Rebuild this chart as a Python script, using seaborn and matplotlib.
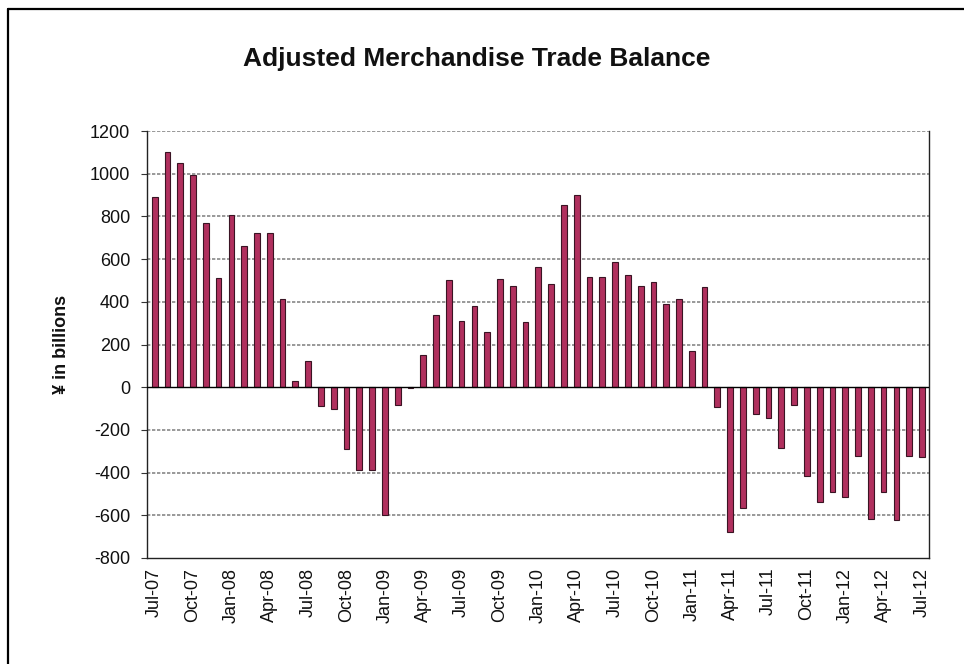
import matplotlib
matplotlib.use("Agg")
import matplotlib.pyplot as plt
from matplotlib.lines import Line2D
import seaborn as sns
import pandas as pd

# Monthly adjusted merchandise trade balance, Jul-2007 .. Jul-2012 (¥ billions)
months = pd.date_range("2007-07-01", "2012-07-01", freq="MS").strftime("%b-%y").tolist()
balance = [
    890, 1100, 1050, 995, 770, 510, 805, 660, 720, 720, 415, 30,
    125, -88, -102, -290, -386, -386, -600, -82, -5, 150, 340, 500,
    310, 380, 260, 505, 472, 305, 565, 485, 855, 900, 515, 515,
    585, 525, 472, 495, 392, 415, 170, 470, -95, -680, -565, -125,
    -145, -285, -82, -415, -540, -490, -515, -322, -615, -490, -620, -322,
    -326,
]
y_ticks = list(range(-800, 1201, 200))

df = pd.DataFrame({"month": months, "balance": balance})

sns.set_theme(style="white")
plt.rcParams["font.family"] = ["Liberation Sans", "DejaVu Sans"]

fig = plt.figure(figsize=(9.64, 6.64), dpi=100)
fig.patch.set_facecolor("white")
ax = fig.add_axes([147 / 964, 1 - 558 / 664, (929 - 147) / 964, (558 - 131) / 664])

sns.barplot(data=df, x="month", y="balance", ax=ax, color="#B0305E",
            saturation=1, width=0.45, edgecolor="#3A1424", linewidth=0.8)

ax.set_ylim(-800, 1200)
ax.set_xlim(-0.6, len(months) - 0.45)
ax.set_yticks(y_ticks)
ax.set_yticklabels([str(v) for v in y_ticks], fontsize=13, color="#111111")

# quarterly labels on the category axis
pos = list(range(0, len(months), 3))
ax.set_xticks(pos)
ax.set_xticklabels([months[i] for i in pos], rotation=90, fontsize=13, color="#111111")
ax.tick_params(axis="x", length=0, pad=7)
ax.tick_params(axis="y", length=4, width=0.8, color="#333333", direction="out", left=True, pad=8)

# dashed gridlines
for v in y_ticks:
    if v != 0 and v != -800:
        ax.axhline(v, color="#888888", lw=1.2, ls=(0, (2, 1)), zorder=0)
ax.axhline(0, color="black", lw=1.0, zorder=3)

for side in ["left", "right", "bottom"]:
    ax.spines[side].set_visible(True)
    ax.spines[side].set_color("#222222")
    ax.spines[side].set_linewidth(1.0)
ax.spines["top"].set_visible(False)

ax.set_xlabel("")
ax.set_ylabel("¥ in billions", fontsize=13, fontweight="bold", color="#111111")
ax.yaxis.set_label_coords(-(147 - 70) / (929 - 147), 0.5)

fig.text(477 / 964, 1 - 59 / 664, "Adjusted Merchandise Trade Balance",
         ha="center", va="center", fontsize=19, fontweight="bold", color="#111111")

# outer frame (top and left edges)
fig.add_artist(Line2D([8 / 964, 1.0], [1 - 9 / 664, 1 - 9 / 664], color="black", lw=1.6,
                      transform=fig.transFigure))
fig.add_artist(Line2D([8 / 964, 8 / 964], [0.0, 1 - 9 / 664], color="black", lw=1.6,
                      transform=fig.transFigure))

fig.savefig("out.png", dpi=100, facecolor="white")
